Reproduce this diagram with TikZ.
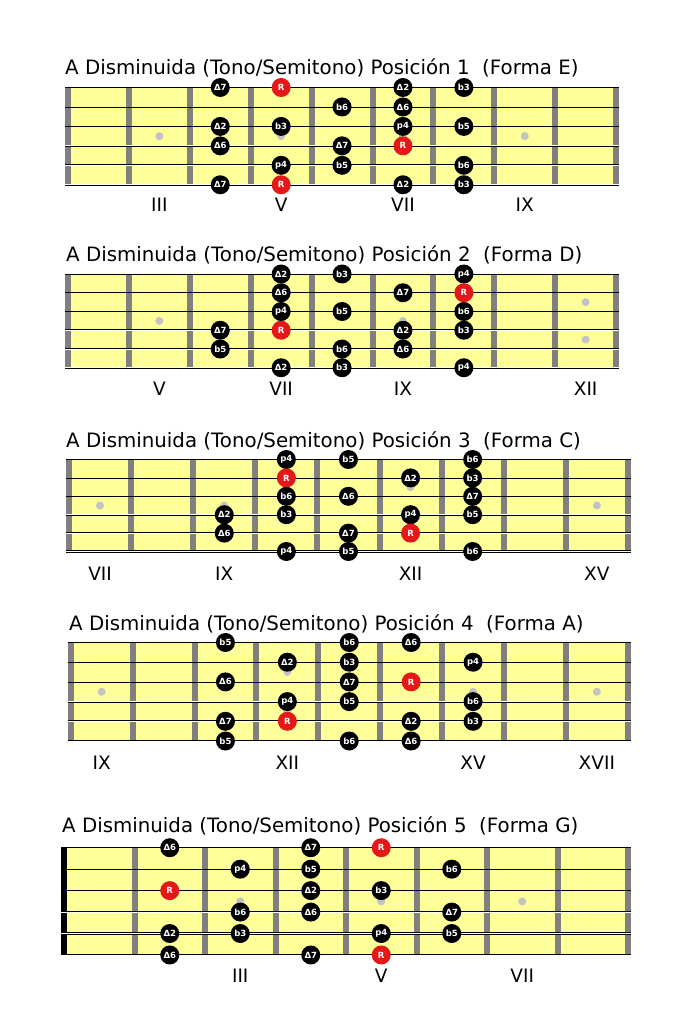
\documentclass[tikz,border=0pt]{standalone}
\usepackage{fontspec}
\setmainfont{DejaVu Sans}
\usepackage{tikz}
\usetikzlibrary{positioning}

\definecolor{boardyellow}{RGB}{255,255,153}
\definecolor{fretgray}{RGB}{128,128,128}
\definecolor{dotgray}{RGB}{195,195,195}
\definecolor{rootred}{RGB}{228,24,24}

\tikzset{
  note/.style={circle, fill=black, text=white, minimum size=19pt, inner sep=0pt, font=\fontsize{8.5}{9}\selectfont\bfseries},
  root/.style={note, fill=rootred},
  fretbar/.style={fretgray, line width=6pt},
  plainstring/.style={black, line width=0.8pt},
  woundstring/.style={black, line width=0.6pt, double=white, double distance=0.9pt},
  inlay/.style={circle, fill=dotgray, minimum size=8pt, inner sep=0pt},
  title/.style={anchor=base west, inner sep=0pt, font=\fontsize{19.8}{23}\selectfont},
  fretnum/.style={anchor=base, inner sep=0pt, font=\fontsize{18.5}{22}\selectfont},
}

% board with #1 spaces, left bar in colour #2
\newcommand{\board}[2]{%
  \fill[boardyellow] ([xshift=-3pt]0,0) rectangle ([xshift=3pt]#1,5);
  \foreach \k in {1,...,#1} \draw[fretbar] (\k,0) -- (\k,5);
  \draw[fretbar, #2] (0,0) -- (0,5);
  \foreach \y in {0,1,2} \draw[plainstring] ([xshift=-3pt]0,\y) -- ([xshift=3pt]#1,\y);
  \foreach \y in {3,4,5} \draw[woundstring] ([xshift=-3pt]0,\y) -- ([xshift=3pt]#1,\y);
}

\begin{document}
\begin{tikzpicture}[x=1pt, y=-1pt]
\useasboundingbox (0,0) rectangle (695,1012);
\fill[white] (0,0) rectangle (695,1012);

% Posicion 1
\node[title] (t1) at (65,74) {A Disminuida (Tono/Semitono) Posición 1~~(Forma E)};
\begin{scope}[shift={(68,87.5)}, x=60.9pt, y=-19.45pt]
  \board{9}{fretgray}
  \foreach \s in {2,4,6,8} \node[inlay] (d1-\s) at (\s-0.5,2.5) {};
  \foreach \s/\f/\t in {0/3/Δ7, 0/6/Δ2, 0/7/b3, 1/5/b6, 1/6/Δ6, 2/3/Δ2, 2/4/b3, 2/6/p4, 2/7/b5,
      3/3/Δ6, 3/5/Δ7, 4/4/p4, 4/5/b5, 4/7/b6, 5/3/Δ7, 5/6/Δ2, 5/7/b3}
    \node[note] (p1-\s-\f) at (\f-0.5,\s) {\t};
  \foreach \s/\f in {0/4, 3/6, 5/4} \node[root] (p1-\s-\f) at (\f-0.5,\s) {R};
  \foreach \f/\r in {2/III, 4/V, 6/VII, 8/IX} \node[fretnum] (f1-\f) at ([yshift=-27pt]\f-0.5,5) {\r};
\end{scope}

% Posicion 2
\node[title] (t2) at (66,261.7) {A Disminuida (Tono/Semitono) Posición 2~~(Forma D)};
\begin{scope}[shift={(68,274)}, x=60.9pt, y=-18.75pt]
  \board{9}{fretgray}
  \foreach \s in {2,4,6} \node[inlay] (d2-\s) at (\s-0.5,2.5) {};
  \node[inlay] (d2-9a) at (8.5,1.5) {};
  \node[inlay] (d2-9b) at (8.5,3.5) {};
  \foreach \s/\f/\t in {0/4/Δ2, 0/5/b3, 0/7/p4, 1/4/Δ6, 1/6/Δ7, 2/4/p4, 2/5/b5, 2/7/b6, 3/3/Δ7,
      3/6/Δ2, 3/7/b3, 4/3/b5, 4/5/b6, 4/6/Δ6, 5/4/Δ2, 5/5/b3, 5/7/p4}
    \node[note] (p2-\s-\f) at (\f-0.5,\s) {\t};
  \foreach \s/\f in {1/7, 3/4} \node[root] (p2-\s-\f) at (\f-0.5,\s) {R};
  \foreach \f/\r in {2/V, 4/VII, 6/IX, 9/XII} \node[fretnum] (f2-\f) at ([yshift=-28pt]\f-0.5,5) {\r};
\end{scope}

% Posicion 3
\node[title] (t3) at (66,447.7) {A Disminuida (Tono/Semitono) Posición 3~~(Forma C)};
\begin{scope}[shift={(69,459.5)}, x=62.1pt, y=-18.4pt]
  \board{9}{fretgray}
  \foreach \s in {1,3,9} \node[inlay] (d3-\s) at (\s-0.5,2.5) {};
  \node[inlay] (d3-6a) at (5.5,1.5) {};
  \node[inlay] (d3-6b) at (5.5,3.5) {};
  \foreach \s/\f/\t in {0/4/p4, 0/5/b5, 0/7/b6, 1/6/Δ2, 1/7/b3, 2/4/b6, 2/5/Δ6, 2/7/Δ7, 3/3/Δ2,
      3/4/b3, 3/6/p4, 3/7/b5, 4/3/Δ6, 4/5/Δ7, 5/4/p4, 5/5/b5, 5/7/b6}
    \node[note] (p3-\s-\f) at (\f-0.5,\s) {\t};
  \foreach \s/\f in {1/4, 4/6} \node[root] (p3-\s-\f) at (\f-0.5,\s) {R};
  \foreach \f/\r in {1/VII, 3/IX, 6/XII, 9/XV} \node[fretnum] (f3-\f) at ([yshift=-28.5pt]\f-0.5,5) {\r};
\end{scope}

% Posicion 4
\node[title] (t4) at (69,630) {A Disminuida (Tono/Semitono) Posición 4~~(Forma A)};
\begin{scope}[shift={(70.7,642.5)}, x=61.9pt, y=-19.7pt]
  \board{9}{fretgray}
  \foreach \s in {1,7,9} \node[inlay] (d4-\s) at (\s-0.5,2.5) {};
  \node[inlay] (d4-4a) at (3.5,1.5) {};
  \node[inlay] (d4-4b) at (3.5,3.5) {};
  \foreach \s/\f/\t in {0/3/b5, 0/5/b6, 0/6/Δ6, 1/4/Δ2, 1/5/b3, 1/7/p4, 2/3/Δ6, 2/5/Δ7, 3/4/p4,
      3/5/b5, 3/7/b6, 4/3/Δ7, 4/6/Δ2, 4/7/b3, 5/3/b5, 5/5/b6, 5/6/Δ6}
    \node[note] (p4-\s-\f) at (\f-0.5,\s) {\t};
  \foreach \s/\f in {2/6, 4/4} \node[root] (p4-\s-\f) at (\f-0.5,\s) {R};
  \foreach \f/\r in {1/IX, 4/XII, 7/XV, 9/XVII} \node[fretnum] (f4-\f) at ([yshift=-28pt]\f-0.5,5) {\r};
\end{scope}

% Posicion 5
\node[title] (t5) at (62,832.7) {A Disminuida (Tono/Semitono) Posición 5~~(Forma G)};
\begin{scope}[shift={(64,847.7)}, x=70.5pt, y=-21.45pt]
  \board{8}{black}
  \foreach \s in {3,5,7} \node[inlay] (d5-\s) at (\s-0.5,2.5) {};
  \foreach \s/\f/\t in {0/2/Δ6, 0/4/Δ7, 1/3/p4, 1/4/b5, 1/6/b6, 2/4/Δ2, 2/5/b3, 3/3/b6, 3/4/Δ6,
      3/6/Δ7, 4/2/Δ2, 4/3/b3, 4/5/p4, 4/6/b5, 5/2/Δ6, 5/4/Δ7}
    \node[note] (p5-\s-\f) at (\f-0.5,\s) {\t};
  \foreach \s/\f in {0/5, 2/2, 5/5} \node[root] (p5-\s-\f) at (\f-0.5,\s) {R};
  \foreach \f/\r in {3/III, 5/V, 7/VII} \node[fretnum] (f5-\f) at ([yshift=-28pt]\f-0.5,5) {\r};
\end{scope}
\end{tikzpicture}
\end{document}
